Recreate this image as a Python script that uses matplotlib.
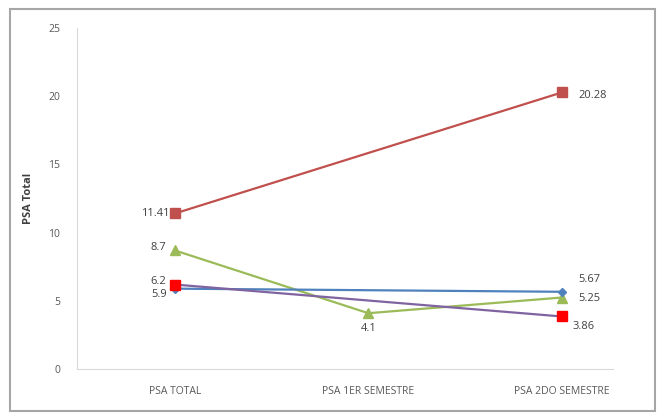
import numpy as np
import matplotlib.pyplot as plt
from matplotlib.patches import Rectangle

# PSA values per period; NaN where a series has no reading
categories = ['PSA TOTAL', 'PSA 1ER SEMESTRE', 'PSA 2DO SEMESTRE']
serie_a = [11.41, np.nan, 20.28]
serie_b = [8.7, 4.1, 5.25]
serie_c = [5.9, np.nan, 5.67]
serie_d = [6.2, np.nan, 3.86]

plt.rcParams['font.family'] = ['Open Sans', 'DejaVu Sans']

fig = plt.figure(figsize=(6.64, 4.19), dpi=100)
ax = fig.add_axes([0.116, 0.119, 0.807, 0.814])

x = np.arange(len(categories))


def draw(vals, line_col, marker, mcol, size, offsets):
    vals = np.array(vals, dtype=float)
    ok = ~np.isnan(vals)
    ax.plot(x[ok], vals[ok], color=line_col, lw=1.6, marker=marker,
            ms=size, mfc=mcol, mec=mcol, zorder=3)
    for xi, v, off in zip(x[ok], vals[ok], offsets):
        ax.annotate(f'{v:g}', (xi, v), xytext=off, textcoords='offset points',
                    ha='center', va='center', fontsize=8, color='#404040')


draw(serie_a, '#C0504D', 's', '#C0504D', 7, [(-14, 0), (22, -2)])
draw(serie_b, '#9BBB59', '^', '#9BBB59', 7, [(-12, 2), (0, -11), (20, -1)])
draw(serie_c, '#4F81BD', 'D', '#4F81BD', 4, [(-11, -4), (20, 9)])
draw(serie_d, '#8064A2', 's', '#FF0000', 7, [(-12, 2), (16, -7)])

ax.set_xlim(-0.506, 2.264)
ax.set_ylim(0, 25)
ax.set_yticks([0, 5, 10, 15, 20, 25])
ax.set_xticks(x)
ax.set_xticklabels(categories)
ax.tick_params(length=0, labelsize=7.5, colors='#595959')
ax.tick_params(axis='y', pad=12)
ax.tick_params(axis='x', pad=12)
ax.set_ylabel('PSA Total', fontsize=8, fontweight='bold', color='#404040', labelpad=10)

for side in ['top', 'right']:
    ax.spines[side].set_visible(False)
for side in ['left', 'bottom']:
    ax.spines[side].set_color('#d9d9d9')

# outer frame around the chart area
fig.patches.append(Rectangle((0.015, 0.018), 0.972, 0.96, transform=fig.transFigure,
                             fill=False, ec='#a6a6a6', lw=1.5))

fig.savefig('out.png', dpi=100)
